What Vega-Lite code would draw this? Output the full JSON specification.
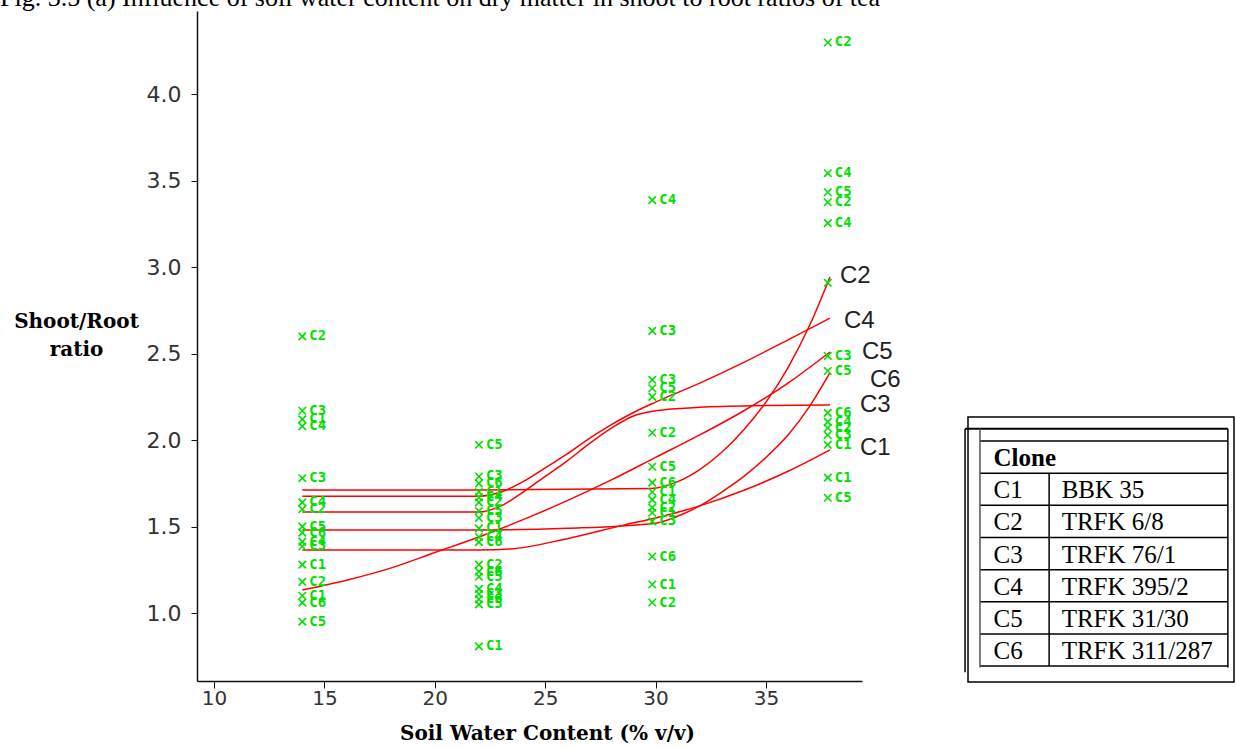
{
  "$schema": "https://vega.github.io/schema/vega-lite/v6.json",
  "autosize": {"type": "none"},
  "padding": {"left": 197, "top": 11, "right": 1039, "bottom": 737},
  "background": "white",
  "bounds": "flush",
  "spacing": 106,
  "datasets": {
    "pts": [
      {"x": 14, "y": 2.60, "clone": "C2"}, {"x": 14, "y": 2.17, "clone": "C3"}, {"x": 14, "y": 2.12, "clone": "C1"}, {"x": 14, "y": 2.08, "clone": "C4"},
      {"x": 14, "y": 1.78, "clone": "C3"}, {"x": 14, "y": 1.64, "clone": "C4"}, {"x": 14, "y": 1.60, "clone": "C2"}, {"x": 14, "y": 1.50, "clone": "C5"},
      {"x": 14, "y": 1.465, "clone": "C6"}, {"x": 14, "y": 1.413, "clone": "C4"}, {"x": 14, "y": 1.385, "clone": "C3"}, {"x": 14, "y": 1.28, "clone": "C1"},
      {"x": 14, "y": 1.18, "clone": "C2"}, {"x": 14, "y": 1.10, "clone": "C1"}, {"x": 14, "y": 1.06, "clone": "C6"}, {"x": 14, "y": 0.95, "clone": "C5"},
      {"x": 22, "y": 1.973, "clone": "C5"}, {"x": 22, "y": 1.79, "clone": "C3"}, {"x": 22, "y": 1.75, "clone": "C6"}, {"x": 22, "y": 1.70, "clone": "C1"},
      {"x": 22, "y": 1.67, "clone": "C4"}, {"x": 22, "y": 1.64, "clone": "C2"}, {"x": 22, "y": 1.59, "clone": "C5"}, {"x": 22, "y": 1.55, "clone": "C3"},
      {"x": 22, "y": 1.49, "clone": "C1"}, {"x": 22, "y": 1.44, "clone": "C4"}, {"x": 22, "y": 1.41, "clone": "C6"}, {"x": 22, "y": 1.28, "clone": "C2"},
      {"x": 22, "y": 1.24, "clone": "C6"}, {"x": 22, "y": 1.21, "clone": "C5"}, {"x": 22, "y": 1.14, "clone": "C4"}, {"x": 22, "y": 1.11, "clone": "C3"},
      {"x": 22, "y": 1.08, "clone": "C6"}, {"x": 22, "y": 1.05, "clone": "C5"}, {"x": 22, "y": 0.807, "clone": "C1"},
      {"x": 29.85, "y": 3.388, "clone": "C4"}, {"x": 29.85, "y": 2.632, "clone": "C3"}, {"x": 29.85, "y": 2.349, "clone": "C3"}, {"x": 29.85, "y": 2.30, "clone": "C5"},
      {"x": 29.85, "y": 2.25, "clone": "C2"}, {"x": 29.85, "y": 2.043, "clone": "C2"}, {"x": 29.85, "y": 1.846, "clone": "C5"}, {"x": 29.85, "y": 1.754, "clone": "C6"},
      {"x": 29.85, "y": 1.70, "clone": "C1"}, {"x": 29.85, "y": 1.656, "clone": "C4"}, {"x": 29.85, "y": 1.61, "clone": "C2"}, {"x": 29.85, "y": 1.58, "clone": "C1"},
      {"x": 29.85, "y": 1.53, "clone": "C3"}, {"x": 29.85, "y": 1.327, "clone": "C6"}, {"x": 29.85, "y": 1.165, "clone": "C1"}, {"x": 29.85, "y": 1.061, "clone": "C2"},
      {"x": 37.8, "y": 4.30, "clone": "C2"}, {"x": 37.8, "y": 3.544, "clone": "C4"}, {"x": 37.8, "y": 3.434, "clone": "C5"}, {"x": 37.8, "y": 3.376, "clone": "C2"},
      {"x": 37.8, "y": 3.255, "clone": "C4"}, {"x": 37.8, "y": 2.91, "clone": ""}, {"x": 37.8, "y": 2.487, "clone": "C3"}, {"x": 37.8, "y": 2.40, "clone": "C5"},
      {"x": 37.8, "y": 2.158, "clone": "C6"}, {"x": 37.8, "y": 2.106, "clone": "C4"}, {"x": 37.8, "y": 2.07, "clone": "C2"}, {"x": 37.8, "y": 2.03, "clone": "C3"},
      {"x": 37.8, "y": 1.973, "clone": "C1"}, {"x": 37.8, "y": 1.783, "clone": "C1"}, {"x": 37.8, "y": 1.667, "clone": "C5"}
    ],
    "lines": [
      {"clone": "C1", "x": 14, "y": 1.364}, {"clone": "C1", "x": 22, "y": 1.364}, {"clone": "C1", "x": 23.4, "y": 1.37}, {"clone": "C1", "x": 26, "y": 1.43},
      {"clone": "C1", "x": 28.6, "y": 1.51}, {"clone": "C1", "x": 30, "y": 1.55}, {"clone": "C1", "x": 32, "y": 1.62}, {"clone": "C1", "x": 34, "y": 1.71},
      {"clone": "C1", "x": 36, "y": 1.82}, {"clone": "C1", "x": 37.9, "y": 1.944},
      {"clone": "C2", "x": 14, "y": 1.711}, {"clone": "C2", "x": 22, "y": 1.711}, {"clone": "C2", "x": 29.8, "y": 1.72}, {"clone": "C2", "x": 31, "y": 1.76},
      {"clone": "C2", "x": 32, "y": 1.83}, {"clone": "C2", "x": 33, "y": 1.93}, {"clone": "C2", "x": 34, "y": 2.06}, {"clone": "C2", "x": 35, "y": 2.22},
      {"clone": "C2", "x": 36, "y": 2.42}, {"clone": "C2", "x": 37, "y": 2.67}, {"clone": "C2", "x": 37.9, "y": 2.944},
      {"clone": "C3", "x": 14, "y": 1.584}, {"clone": "C3", "x": 22, "y": 1.584}, {"clone": "C3", "x": 23, "y": 1.62}, {"clone": "C3", "x": 24, "y": 1.70},
      {"clone": "C3", "x": 25, "y": 1.79}, {"clone": "C3", "x": 26, "y": 1.88}, {"clone": "C3", "x": 27, "y": 1.98}, {"clone": "C3", "x": 28, "y": 2.07},
      {"clone": "C3", "x": 29, "y": 2.14}, {"clone": "C3", "x": 30, "y": 2.17}, {"clone": "C3", "x": 32, "y": 2.19}, {"clone": "C3", "x": 35, "y": 2.20},
      {"clone": "C3", "x": 37.9, "y": 2.204},
      {"clone": "C4", "x": 14, "y": 1.676}, {"clone": "C4", "x": 22, "y": 1.676}, {"clone": "C4", "x": 23, "y": 1.70}, {"clone": "C4", "x": 24, "y": 1.76},
      {"clone": "C4", "x": 25, "y": 1.84}, {"clone": "C4", "x": 26, "y": 1.92}, {"clone": "C4", "x": 27, "y": 2.01}, {"clone": "C4", "x": 28, "y": 2.09},
      {"clone": "C4", "x": 29, "y": 2.16}, {"clone": "C4", "x": 30, "y": 2.22}, {"clone": "C4", "x": 32, "y": 2.33}, {"clone": "C4", "x": 34, "y": 2.45},
      {"clone": "C4", "x": 36, "y": 2.58}, {"clone": "C4", "x": 37.9, "y": 2.706},
      {"clone": "C5", "x": 14, "y": 1.133}, {"clone": "C5", "x": 16, "y": 1.19}, {"clone": "C5", "x": 18, "y": 1.26}, {"clone": "C5", "x": 20, "y": 1.35},
      {"clone": "C5", "x": 22, "y": 1.44}, {"clone": "C5", "x": 24, "y": 1.54}, {"clone": "C5", "x": 26, "y": 1.65}, {"clone": "C5", "x": 28, "y": 1.77},
      {"clone": "C5", "x": 30, "y": 1.90}, {"clone": "C5", "x": 32, "y": 2.03}, {"clone": "C5", "x": 34, "y": 2.17}, {"clone": "C5", "x": 36, "y": 2.33},
      {"clone": "C5", "x": 37.9, "y": 2.51},
      {"clone": "C6", "x": 14, "y": 1.48}, {"clone": "C6", "x": 22, "y": 1.48}, {"clone": "C6", "x": 26, "y": 1.49}, {"clone": "C6", "x": 30, "y": 1.52},
      {"clone": "C6", "x": 31, "y": 1.56}, {"clone": "C6", "x": 32, "y": 1.62}, {"clone": "C6", "x": 33, "y": 1.70}, {"clone": "C6", "x": 34, "y": 1.79},
      {"clone": "C6", "x": 35, "y": 1.90}, {"clone": "C6", "x": 36, "y": 2.03}, {"clone": "C6", "x": 37, "y": 2.20}, {"clone": "C6", "x": 37.9, "y": 2.39}
    ],
    "ends": [
      {"clone": "C2", "x": 38.35, "y": 2.949}, {"clone": "C4", "x": 38.53, "y": 2.689}, {"clone": "C5", "x": 39.35, "y": 2.51},
      {"clone": "C6", "x": 39.71, "y": 2.348}, {"clone": "C3", "x": 39.26, "y": 2.203}, {"clone": "C1", "x": 39.26, "y": 1.955}
    ],
    "table": [
      {"r": 0, "code": "Clone", "name": ""},
      {"r": 1, "code": "C1", "name": "BBK 35"},
      {"r": 2, "code": "C2", "name": "TRFK 6/8"},
      {"r": 3, "code": "C3", "name": "TRFK 76/1"},
      {"r": 4, "code": "C4", "name": "TRFK 395/2"},
      {"r": 5, "code": "C5", "name": "TRFK 31/30"},
      {"r": 6, "code": "C6", "name": "TRFK 311/287"}
    ]
  },
  "hconcat": [
    {
      "width": 665,
      "height": 670,
      "view": {"stroke": null},
      "title": {"text": "Fig. 3.5 (a) Influence of soil water content on dry matter in shoot to root ratios of tea", "anchor": "start", "frame": "group", "dx": -197, "dy": 24, "offset": 3, "font": "Liberation Serif", "fontSize": 26, "fontWeight": "normal", "baseline": "alphabetic", "color": "#000"},
      "encoding": {
        "x": {"field": "x", "type": "quantitative", "scale": {"domain": [9.23, 39.35], "nice": false, "zero": false},
          "axis": {"values": [10, 15, 20, 25, 30, 35], "title": "Soil Water Content (% v/v)", "grid": false, "domainColor": "#111", "domainWidth": 1.5, "tickColor": "#111", "tickSize": 7, "tickWidth": 1,
            "labelFont": "DejaVu Sans", "labelFontSize": 20, "labelColor": "#333", "labelPadding": 0, "labelFlush": false, "labelOverlap": false,
            "titleFont": "DejaVu Serif", "titleFontWeight": "bold", "titleFontSize": 20, "titleColor": "#000", "titleX": 350, "titleY": 58, "titleAlign": "center", "titleBaseline": "alphabetic", "titleAnchor": null}},
        "y": {"field": "y", "type": "quantitative", "scale": {"domain": [0.607, 4.482], "nice": false, "zero": false},
          "axis": {"values": [1, 1.5, 2, 2.5, 3, 3.5, 4], "format": ".1f", "title": ["Shoot/Root", "ratio"], "grid": false, "domainColor": "#111", "domainWidth": 1.5, "tickColor": "#111", "tickSize": 6, "tickWidth": 1,
            "labelFont": "DejaVu Sans", "labelFontSize": 22, "labelColor": "#333", "labelPadding": 10, "labelOverlap": false, "labelFlush": false,
            "titleFont": "DejaVu Serif", "titleFontWeight": "bold", "titleFontSize": 20, "titleColor": "#000", "titleAngle": 0, "titleX": -121, "titleY": 316, "titleAlign": "center", "titleBaseline": "alphabetic", "titleLineHeight": 28, "titleAnchor": null}}
      },
      "layer": [
        {"data": {"name": "lines"}, "mark": {"type": "line", "interpolate": "monotone", "color": "#ff0000", "strokeWidth": 1.5}, "encoding": {"detail": {"field": "clone"}}},
        {"data": {"name": "pts"}, "mark": {"type": "point", "shape": "M-1,-1L1,1M-1,1L1,-1", "filled": false, "color": "#00e000", "size": 56, "strokeWidth": 1.6, "opacity": 1}},
        {"data": {"name": "pts"}, "mark": {"type": "text", "align": "left", "baseline": "middle", "dx": 7, "font": "DejaVu Sans Mono", "fontSize": 14, "fontWeight": "bold", "color": "#00e000"}, "encoding": {"text": {"field": "clone"}}},
        {"data": {"name": "ends"}, "mark": {"type": "text", "align": "left", "baseline": "middle", "font": "Liberation Sans", "fontSize": 24, "color": "#222"}, "encoding": {"text": {"field": "clone"}}}
      ]
    },
    {
      "bounds": "flush",
      "spacing": 10,
      "vconcat": [
        {"width": 266, "height": 396, "view": {"stroke": null}, "data": {"values": []}, "mark": "point"},
        {
          "width": 266,
          "height": 265,
          "view": {"stroke": "#000", "strokeWidth": 1.5},
          "data": {"name": "table"},
          "layer": [
            {"mark": {"type": "rule", "color": "#000", "strokeWidth": 1.5},
             "encoding": {"y": {"field": "r", "type": "quantitative", "scale": {"domain": [-0.748, 7.494], "reverse": true, "nice": false, "zero": false}, "axis": null},
               "x": {"datum": 0.045, "type": "quantitative", "scale": {"domain": [0, 1], "nice": false, "zero": false}, "axis": null}, "x2": {"datum": 0.977}}},
            {"data": {"values": [{}]}, "mark": {"type": "rule", "color": "#000", "strokeWidth": 1.5},
             "encoding": {"y": {"datum": 7, "type": "quantitative", "axis": null}, "x": {"datum": 0.045, "type": "quantitative", "axis": null}, "x2": {"datum": 0.977}}},
            {"data": {"values": [{}]}, "mark": {"type": "rule", "color": "#000", "strokeWidth": 2},
             "encoding": {"y": {"datum": -0.385, "type": "quantitative", "axis": null}, "x": {"datum": -0.011, "type": "quantitative", "axis": null}, "x2": {"datum": 0.977}}},
            {"data": {"values": [{}]}, "mark": {"type": "rule", "color": "#000", "strokeWidth": 1.5},
             "encoding": {"x": {"datum": -0.011, "type": "quantitative", "axis": null}, "y": {"datum": -0.385, "type": "quantitative", "axis": null}, "y2": {"datum": 7.19}}},
            {"data": {"values": [{}]}, "mark": {"type": "rule", "color": "#555", "strokeWidth": 1.5},
             "encoding": {"x": {"datum": 0.045, "type": "quantitative", "axis": null}, "y": {"datum": -0.385, "type": "quantitative", "axis": null}, "y2": {"datum": 7.04}}},
            {"data": {"values": [{}]}, "mark": {"type": "rule", "color": "#000", "strokeWidth": 1.5},
             "encoding": {"x": {"datum": 0.977, "type": "quantitative", "axis": null}, "y": {"datum": -0.385, "type": "quantitative", "axis": null}, "y2": {"datum": 7.04}}},
            {"data": {"values": [{}]}, "mark": {"type": "rule", "color": "#000", "strokeWidth": 1.5},
             "encoding": {"x": {"datum": 0.305, "type": "quantitative", "axis": null}, "y": {"datum": 1, "type": "quantitative", "axis": null}, "y2": {"datum": 7}}},
            {"transform": [{"filter": "datum.r == 0"}], "mark": {"type": "text", "align": "left", "baseline": "middle", "dy": 17, "font": "Liberation Serif", "fontSize": 25, "fontWeight": "bold", "color": "#000"},
             "encoding": {"y": {"field": "r", "type": "quantitative", "axis": null}, "x": {"datum": 0.096, "type": "quantitative", "axis": null}, "text": {"field": "code"}}},
            {"transform": [{"filter": "datum.r > 0"}], "mark": {"type": "text", "align": "left", "baseline": "middle", "dy": 17, "font": "Liberation Serif", "fontSize": 25, "color": "#000"},
             "encoding": {"y": {"field": "r", "type": "quantitative", "axis": null}, "x": {"datum": 0.096, "type": "quantitative", "axis": null}, "text": {"field": "code"}}},
            {"transform": [{"filter": "datum.r > 0"}], "mark": {"type": "text", "align": "left", "baseline": "middle", "dy": 17, "font": "Liberation Serif", "fontSize": 25, "color": "#000"},
             "encoding": {"y": {"field": "r", "type": "quantitative", "axis": null}, "x": {"datum": 0.352, "type": "quantitative", "axis": null}, "text": {"field": "name"}}}
          ]
        }
      ]
    }
  ]
}
